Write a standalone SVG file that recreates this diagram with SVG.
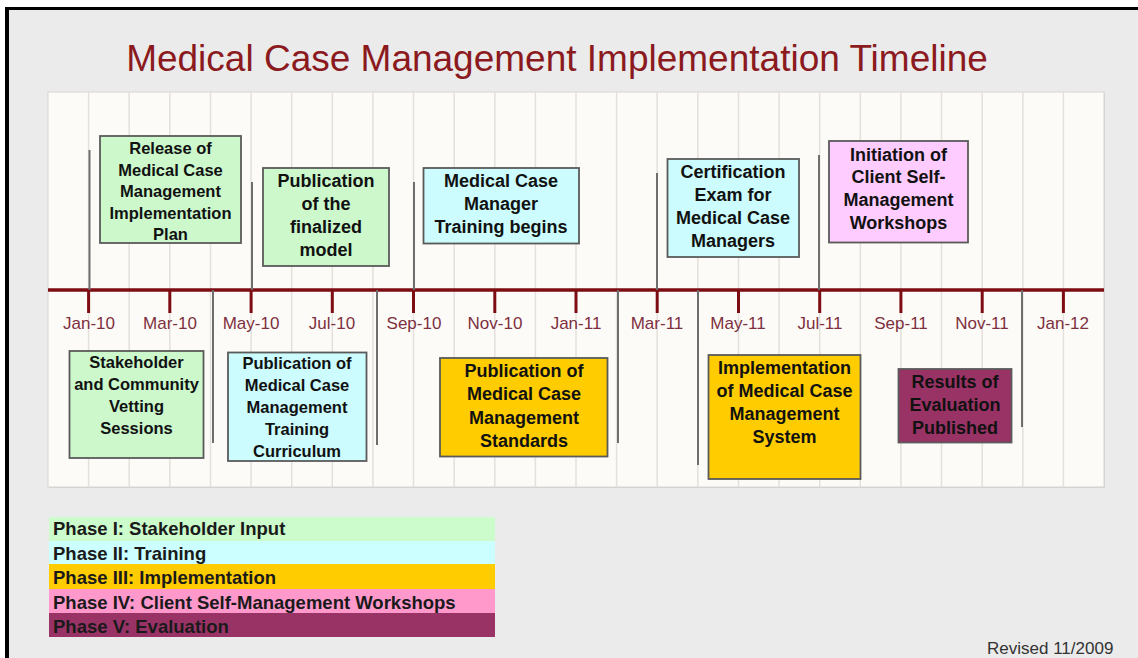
<svg xmlns="http://www.w3.org/2000/svg" width="1138" height="658" viewBox="0 0 1138 658">
  <style>
    .grid { stroke: #e4e0db; stroke-width: 1.5; }
    .axis { stroke: #7d0d12; stroke-width: 3.5; }
    .tick { stroke: #7d0d12; stroke-width: 3; }
    .event { stroke: #6e6e6e; stroke-width: 2; }
    .month { font-family: "Liberation Sans", Arial, sans-serif; font-size: 17px; fill: #7d3040; text-anchor: middle; }
    .box { stroke: #5a5a5a; stroke-width: 1.8; }
    .lbl { font-family: "Liberation Sans", Arial, sans-serif; font-weight: bold; fill: #111; text-anchor: middle; }
    .s18 { font-size: 18px; }
    .s16 { font-size: 16.5px; }
    .green { fill: #ccf8cc; }
    .cyan { fill: #ccfcfd; }
    .orange { fill: #ffcc00; }
    .pink { fill: #ffccff; }
    .purple { fill: #993366; }
    .legend { font-family: "Liberation Sans", Arial, sans-serif; font-weight: bold; font-size: 18.5px; fill: #1a1a1a; }
  </style>

  <!-- page and frame -->
  <rect x="0" y="0" width="1138" height="658" fill="#ffffff"/>
  <rect x="9" y="10" width="1129" height="648" fill="#ebebeb"/>
  <line x1="7" y1="7" x2="7" y2="658" stroke="#000" stroke-width="4"/>
  <line x1="5" y1="8.5" x2="1138" y2="8.5" stroke="#000" stroke-width="3"/>

  <!-- title -->
  <text x="557" y="71" font-family="Liberation Sans, Arial, sans-serif" font-size="37" fill="#8b1a1e" text-anchor="middle">Medical Case Management Implementation Timeline</text>

  <!-- chart panel -->
  <g id="panel">
    <rect x="49" y="93" width="1056" height="395" fill="#d2d2d2"/>
    <rect x="48" y="92" width="1056" height="395" fill="#fdfbf7" stroke="#d6d6d6" stroke-width="1"/>
    <g class="grid">
      <line x1="88.6" y1="92" x2="88.6" y2="487"/>
      <line x1="129.2" y1="92" x2="129.2" y2="487"/>
      <line x1="169.8" y1="92" x2="169.8" y2="487"/>
      <line x1="210.5" y1="92" x2="210.5" y2="487"/>
      <line x1="251.1" y1="92" x2="251.1" y2="487"/>
      <line x1="291.7" y1="92" x2="291.7" y2="487"/>
      <line x1="332.3" y1="92" x2="332.3" y2="487"/>
      <line x1="372.9" y1="92" x2="372.9" y2="487"/>
      <line x1="413.5" y1="92" x2="413.5" y2="487"/>
      <line x1="454.2" y1="92" x2="454.2" y2="487"/>
      <line x1="494.8" y1="92" x2="494.8" y2="487"/>
      <line x1="535.4" y1="92" x2="535.4" y2="487"/>
      <line x1="576" y1="92" x2="576" y2="487"/>
      <line x1="616.6" y1="92" x2="616.6" y2="487"/>
      <line x1="657.2" y1="92" x2="657.2" y2="487"/>
      <line x1="697.8" y1="92" x2="697.8" y2="487"/>
      <line x1="738.5" y1="92" x2="738.5" y2="487"/>
      <line x1="779.1" y1="92" x2="779.1" y2="487"/>
      <line x1="819.7" y1="92" x2="819.7" y2="487"/>
      <line x1="860.3" y1="92" x2="860.3" y2="487"/>
      <line x1="900.9" y1="92" x2="900.9" y2="487"/>
      <line x1="941.5" y1="92" x2="941.5" y2="487"/>
      <line x1="982.2" y1="92" x2="982.2" y2="487"/>
      <line x1="1022.8" y1="92" x2="1022.8" y2="487"/>
      <line x1="1063.4" y1="92" x2="1063.4" y2="487"/>
    </g>
  </g>

  <!-- time axis -->
  <g id="axis">
    <line class="axis" x1="48" y1="290" x2="1104" y2="290"/>
    <g class="tick">
      <line x1="88.6" y1="290" x2="88.6" y2="313"/>
      <line x1="169.8" y1="290" x2="169.8" y2="313"/>
      <line x1="251.1" y1="290" x2="251.1" y2="313"/>
      <line x1="332.3" y1="290" x2="332.3" y2="313"/>
      <line x1="413.5" y1="290" x2="413.5" y2="313"/>
      <line x1="494.8" y1="290" x2="494.8" y2="313"/>
      <line x1="576" y1="290" x2="576" y2="313"/>
      <line x1="657.2" y1="290" x2="657.2" y2="313"/>
      <line x1="738.5" y1="290" x2="738.5" y2="313"/>
      <line x1="819.7" y1="290" x2="819.7" y2="313"/>
      <line x1="900.9" y1="290" x2="900.9" y2="313"/>
      <line x1="982.2" y1="290" x2="982.2" y2="313"/>
      <line x1="1063.4" y1="290" x2="1063.4" y2="313"/>
    </g>
    <g class="month">
      <text x="89" y="329">Jan-10</text>
      <text x="170" y="329">Mar-10</text>
      <text x="251" y="329">May-10</text>
      <text x="332" y="329">Jul-10</text>
      <text x="414" y="329">Sep-10</text>
      <text x="495" y="329">Nov-10</text>
      <text x="576" y="329">Jan-11</text>
      <text x="657" y="329">Mar-11</text>
      <text x="738" y="329">May-11</text>
      <text x="820" y="329">Jul-11</text>
      <text x="901" y="329">Sep-11</text>
      <text x="982" y="329">Nov-11</text>
      <text x="1063" y="329">Jan-12</text>
    </g>
  </g>

  <!-- event markers tying each milestone to the axis -->
  <g id="connectors" class="event">
    <line x1="89.5" y1="150" x2="89.5" y2="290"/>
    <line x1="252" y1="182" x2="252" y2="290"/>
    <line x1="414" y1="182" x2="414" y2="290"/>
    <line x1="657" y1="173" x2="657" y2="290"/>
    <line x1="819" y1="155" x2="819" y2="290"/>
    <line x1="213" y1="290" x2="213" y2="443"/>
    <line x1="377" y1="290" x2="377" y2="445"/>
    <line x1="618" y1="290" x2="618" y2="443"/>
    <line x1="698" y1="290" x2="698" y2="465"/>
    <line x1="1022" y1="290" x2="1022" y2="427"/>
  </g>

  <!-- milestones above the axis -->
  <g id="release-plan">
    <rect class="box green" x="100" y="136" width="141" height="107"/>
    <text class="lbl s16" x="170.5" y="154"><tspan x="170.5">Release of</tspan><tspan x="170.5" dy="21.5">Medical Case</tspan><tspan x="170.5" dy="21.5">Management</tspan><tspan x="170.5" dy="21.5">Implementation</tspan><tspan x="170.5" dy="21.5">Plan</tspan></text>
  </g>
  <g id="finalized-model">
    <rect class="box green" x="263" y="168" width="126" height="98"/>
    <text class="lbl s18" x="326" y="186.5"><tspan x="326">Publication</tspan><tspan x="326" dy="23.3">of the</tspan><tspan x="326" dy="23.3">finalized</tspan><tspan x="326" dy="23.3">model</tspan></text>
  </g>
  <g id="training-begins">
    <rect class="box cyan" x="423.5" y="168" width="155.5" height="75.5"/>
    <text class="lbl s18" x="501" y="187"><tspan x="501">Medical Case</tspan><tspan x="501" dy="23.2">Manager</tspan><tspan x="501" dy="23">Training begins</tspan></text>
  </g>
  <g id="certification-exam">
    <rect class="box cyan" x="667.5" y="159" width="131.5" height="98"/>
    <text class="lbl s18" x="733" y="178"><tspan x="733">Certification</tspan><tspan x="733" dy="23.2">Exam for</tspan><tspan x="733" dy="23">Medical Case</tspan><tspan x="733" dy="23.2">Managers</tspan></text>
  </g>
  <g id="self-management-workshops">
    <rect class="box pink" x="829" y="141" width="139" height="101.5"/>
    <text class="lbl s18" x="898.5" y="160.5"><tspan x="898.5">Initiation of</tspan><tspan x="898.5" dy="22.8">Client Self-</tspan><tspan x="898.5" dy="22.8">Management</tspan><tspan x="898.5" dy="22.8">Workshops</tspan></text>
  </g>

  <!-- milestones below the axis -->
  <g id="vetting-sessions">
    <rect class="box green" x="69.5" y="351" width="134" height="107"/>
    <text class="lbl s16" x="136.5" y="368.3"><tspan x="136.5">Stakeholder</tspan><tspan x="136.5" dy="21.8">and Community</tspan><tspan x="136.5" dy="21.8">Vetting</tspan><tspan x="136.5" dy="21.8">Sessions</tspan></text>
  </g>
  <g id="training-curriculum">
    <rect class="box cyan" x="228" y="352.5" width="138.5" height="108.5"/>
    <text class="lbl s16" x="297" y="369.3"><tspan x="297">Publication of</tspan><tspan x="297" dy="21.8">Medical Case</tspan><tspan x="297" dy="21.8">Management</tspan><tspan x="297" dy="21.8">Training</tspan><tspan x="297" dy="21.8">Curriculum</tspan></text>
  </g>
  <g id="standards">
    <rect class="box orange" x="440" y="358" width="167.5" height="98.5"/>
    <text class="lbl s18" x="524" y="376.5"><tspan x="524">Publication of</tspan><tspan x="524" dy="23.5">Medical Case</tspan><tspan x="524" dy="23.5">Management</tspan><tspan x="524" dy="23.5">Standards</tspan></text>
  </g>
  <g id="implementation-system">
    <rect class="box orange" x="708.5" y="355" width="152" height="124"/>
    <text class="lbl s18" x="784.5" y="373.8"><tspan x="784.5">Implementation</tspan><tspan x="784.5" dy="23.1">of Medical Case</tspan><tspan x="784.5" dy="23.1">Management</tspan><tspan x="784.5" dy="23.1">System</tspan></text>
  </g>
  <g id="evaluation-results">
    <rect class="box purple" x="898.5" y="369" width="113" height="73.5"/>
    <text class="lbl s18" x="955" y="387.5" fill="#1c0a12"><tspan x="955">Results of</tspan><tspan x="955" dy="23.3">Evaluation</tspan><tspan x="955" dy="23.3">Published</tspan></text>
  </g>

  <!-- phase legend -->
  <g id="legend">
    <rect x="49" y="517" width="446" height="24" fill="#ccfccc"/>
    <rect x="49" y="541" width="446" height="23" fill="#ccffff"/>
    <rect x="49" y="564" width="446" height="25" fill="#ffcc00"/>
    <rect x="49" y="589" width="446" height="24" fill="#ff99cc"/>
    <rect x="49" y="613" width="446" height="24" fill="#993366"/>
    <text class="legend" x="53" y="534.5">Phase I: Stakeholder Input</text>
    <text class="legend" x="53" y="559.5">Phase II: Training</text>
    <text class="legend" x="53" y="584">Phase III: Implementation</text>
    <text class="legend" x="53" y="609">Phase IV: Client Self-Management Workshops</text>
    <text class="legend" x="53" y="633" fill="#2a0a18">Phase V: Evaluation</text>
  </g>

  <text x="987" y="654" font-family="Liberation Sans, Arial, sans-serif" font-size="17" fill="#333">Revised 11/2009</text>
</svg>
